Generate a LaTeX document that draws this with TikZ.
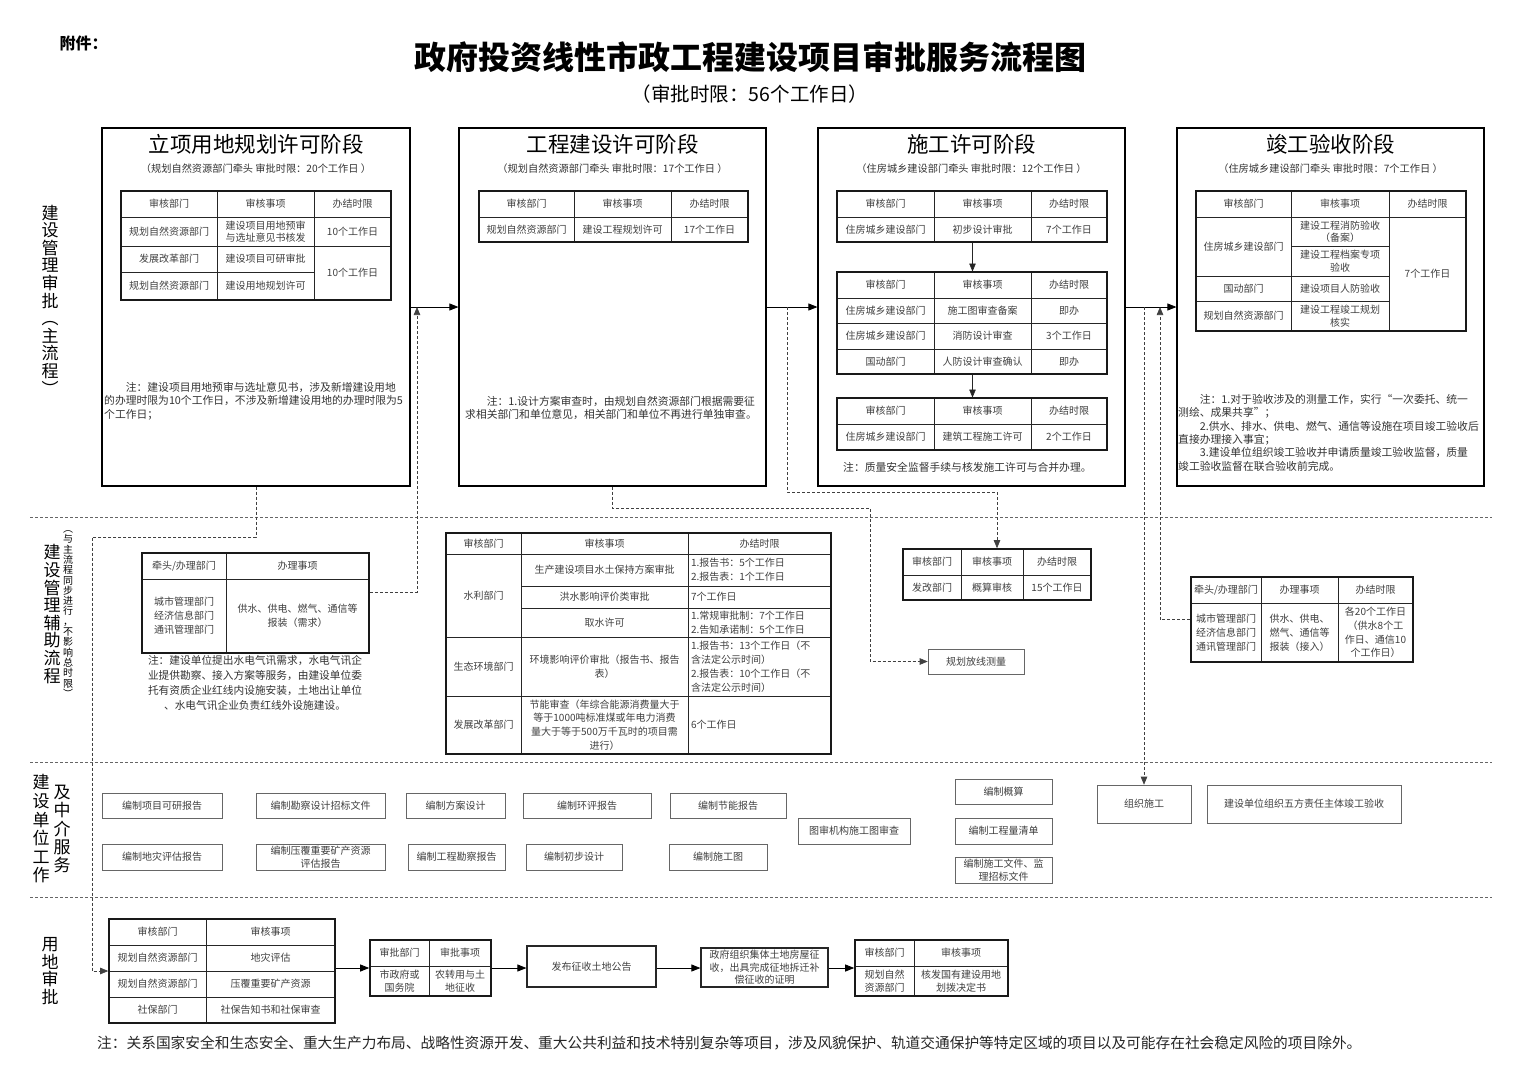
\documentclass[tikz,border=0pt]{standalone}
\usepackage{fontspec}
\setmainfont{Noto Sans CJK SC}
\usetikzlibrary{arrows.meta}

\newcommand{\tabfont}{\fontsize{10}{12.5}\selectfont}
\newcommand{\notefont}{\fontsize{10.8}{13.4}\selectfont}
\newcommand{\tcell}[7][cell]{%
  \node (#2) [#1, minimum width={(#5-#3)*1pt}, minimum height={(#6-#4)*1pt}]
    at ({(#3+#5)/2},{(#4+#6)/2}) {#7};}

\begin{document}
\begin{tikzpicture}[
    x=1pt, y=-1pt,
    stage/.style={draw=black, line width=1.2pt, inner sep=0pt},
    stitle/.style={font=\fontsize{21.5}{24}\selectfont, inner sep=0pt},
    ssub/.style={font=\fontsize{10.2}{12}\selectfont, text=black!80, inner sep=0pt},
    cell/.style={draw=black!85, line width=1pt, inner sep=0.5pt, align=center, font=\tabfont, text=black!75},
    lcell/.style={cell, align=left, text width=137pt},
    mcell/.style={cell, font=\fontsize{10}{13.8}\selectfont},
    mlcell/.style={mcell, align=left, text width=137pt},
    tframe/.style={draw=black!90, line width=1.6pt, inner sep=0pt},
    svc/.style={draw=black!60, line width=0.6pt, inner sep=1pt, align=center, font=\tabfont, text=black!75},
    lbox/.style={svc, draw=black!85, line width=1.2pt},
    note/.style={align=left, font=\notefont, text=black!80, inner sep=0pt},
    vlabel/.style={align=center, font=\fontsize{17}{17.6}\selectfont, inner sep=0pt},
    vsmall/.style={align=center, font=\fontsize{10}{10.3}\selectfont, inner sep=0pt},
    sepline/.style={dash pattern=on 3pt off 2pt, line width=0.5pt, black!60},
    flow/.style={-{Triangle[length=9pt,width=7pt]}, line width=0.8pt, black},
    flowsm/.style={-{Triangle[length=8pt,width=6.5pt]}, line width=0.6pt, black!85},
    dflow/.style={-{Triangle[length=8pt,width=6.5pt]}, dash pattern=on 3pt off 2pt, line width=0.6pt, black!75},
]
\path[use as bounding box, fill=white] (0,0) rectangle (1520,1074);

\node (fujian) [anchor=west, font=\fontsize{16}{18}\selectfont\bfseries] at (56,43) {附件：};
\node (title) [font=\fontsize{32}{36}\selectfont\bfseries] at (750,57) {政府投资线性市政工程建设项目审批服务流程图};
\node (limit) [font=\fontsize{19.5}{22}\selectfont] at (750,94) {（审批时限：56个工作日）};

\draw [sepline] (30,517) -- (1492,517);
\draw [sepline] (30,762) -- (1492,762);
\draw [sepline] (30,897) -- (1492,897);

\node (lab1) [vlabel] at (50,300) {建\\设\\管\\理\\审\\批\\︵\\主\\流\\程\\︶};
\node (lab2) [vlabel] at (52,614) {建\\设\\管\\理\\辅\\助\\流\\程};
\node (lab2s) [vsmall] at (68,614) {︵\\与\\主\\流\\程\\同\\步\\进\\行\\，\\不\\影\\响\\总\\时\\限\\︶};
\node (lab3) [vlabel, font=\fontsize{17}{18.6}\selectfont] at (41,829) {建\\设\\单\\位\\工\\作};
\node (lab3s) [vlabel, font=\fontsize{17}{18.4}\selectfont] at (62,829) {及\\中\\介\\服\\务};
\node (lab4) [vlabel] at (50,971) {用\\地\\审\\批};

\tcell[stage]{b1}{102}{128}{410}{486}{}
\tcell[stage]{b2}{459}{128}{766}{486}{}
\tcell[stage]{b3}{818}{128}{1125}{486}{}
\tcell[stage]{b4}{1177}{128}{1484}{486}{}

\node (b1t) [stitle] at (256,144) {立项用地规划许可阶段};
\node (b1s) [ssub] at (256,169) {（规划自然资源部门牵头 审批时限：20个工作日 ）};
\node (b2t) [stitle] at (612.5,144) {工程建设许可阶段};
\node (b2s) [ssub] at (612.5,169) {（规划自然资源部门牵头 审批时限：17个工作日 ）};
\node (b3t) [stitle] at (971.5,144) {施工许可阶段};
\node (b3s) [ssub] at (971.5,169) {（住房城乡建设部门牵头 审批时限：12个工作日 ）};
\node (b4t) [stitle] at (1330.5,144) {竣工验收阶段};
\node (b4s) [ssub] at (1330.5,169) {（住房城乡建设部门牵头 审批时限：7个工作日 ）};

\tcell{s1h1}{121}{191}{217}{217}{审核部门}
\tcell{s1h2}{217}{191}{314}{217}{审核事项}
\tcell{s1h3}{314}{191}{391}{217}{办结时限}
\tcell{s1a1}{121}{217}{217}{246}{规划自然资源部门}
\tcell{s1a2}{217}{217}{314}{246}{建设项目用地预审\\与选址意见书核发}
\tcell{s1a3}{314}{217}{391}{246}{10个工作日}
\tcell{s1b1}{121}{246}{217}{272}{发展改革部门}
\tcell{s1b2}{217}{246}{314}{272}{建设项目可研审批}
\tcell{s1b3}{314}{246}{391}{300}{10个工作日}
\tcell{s1c1}{121}{272}{217}{300}{规划自然资源部门}
\tcell{s1c2}{217}{272}{314}{300}{建设用地规划许可}
\tcell[tframe]{s1tab}{121}{191}{391}{300}{}

\node (b1n) [note, anchor=north west] at (104,382) {\hspace*{2em}注：建设项目用地预审与选址意见书，涉及新增建设用地\\的办理时限为10个工作日，不涉及新增建设用地的办理时限为5\\个工作日；};

\tcell{s2h1}{479}{191}{574}{217}{审核部门}
\tcell{s2h2}{574}{191}{671}{217}{审核事项}
\tcell{s2h3}{671}{191}{748}{217}{办结时限}
\tcell{s2a1}{479}{217}{574}{242}{规划自然资源部门}
\tcell{s2a2}{574}{217}{671}{242}{建设工程规划许可}
\tcell{s2a3}{671}{217}{748}{242}{17个工作日}
\tcell[tframe]{s2tab}{479}{191}{748}{242}{}

\node (b2n) [note, anchor=north west] at (465,396) {\hspace*{2em}注：1.设计方案审查时，由规划自然资源部门根据需要征\\求相关部门和单位意见，相关部门和单位不再进行单独审查。};

\tcell{s3h1}{837}{191}{934}{217}{审核部门}
\tcell{s3h2}{934}{191}{1031}{217}{审核事项}
\tcell{s3h3}{1031}{191}{1107}{217}{办结时限}
\tcell{s3a1}{837}{217}{934}{242}{住房城乡建设部门}
\tcell{s3a2}{934}{217}{1031}{242}{初步设计审批}
\tcell{s3a3}{1031}{217}{1107}{242}{7个工作日}
\tcell[tframe]{s3taba}{837}{191}{1107}{242}{}

\tcell{s3i1}{837}{272}{934}{298}{审核部门}
\tcell{s3i2}{934}{272}{1031}{298}{审核事项}
\tcell{s3i3}{1031}{272}{1107}{298}{办结时限}
\tcell{s3b1}{837}{298}{934}{323}{住房城乡建设部门}
\tcell{s3b2}{934}{298}{1031}{323}{施工图审查备案}
\tcell{s3b3}{1031}{298}{1107}{323}{即办}
\tcell{s3c1}{837}{323}{934}{349}{住房城乡建设部门}
\tcell{s3c2}{934}{323}{1031}{349}{消防设计审查}
\tcell{s3c3}{1031}{323}{1107}{349}{3个工作日}
\tcell{s3d1}{837}{349}{934}{374}{国动部门}
\tcell{s3d2}{934}{349}{1031}{374}{人防设计审查确认}
\tcell{s3d3}{1031}{349}{1107}{374}{即办}
\tcell[tframe]{s3tabb}{837}{272}{1107}{374}{}

\tcell{s3j1}{837}{398}{934}{424}{审核部门}
\tcell{s3j2}{934}{398}{1031}{424}{审核事项}
\tcell{s3j3}{1031}{398}{1107}{424}{办结时限}
\tcell{s3e1}{837}{424}{934}{450}{住房城乡建设部门}
\tcell{s3e2}{934}{424}{1031}{450}{建筑工程施工许可}
\tcell{s3e3}{1031}{424}{1107}{450}{2个工作日}
\tcell[tframe]{s3tabc}{837}{398}{1107}{450}{}

\draw [flowsm] ([xshift=-10pt]s3a2.south) -- ([xshift=-10pt]s3i2.north);
\draw [flowsm] ([xshift=-10pt]s3d2.south) -- ([xshift=-10pt]s3j2.north);

\node (b3n) [note, anchor=west] at (843,467) {注：质量安全监督手续与核发施工许可与合并办理。};

\tcell{s4h1}{1196}{191}{1291}{217}{审核部门}
\tcell{s4h2}{1291}{191}{1389}{217}{审核事项}
\tcell{s4h3}{1389}{191}{1466}{217}{办结时限}
\tcell{s4a1}{1196}{217}{1291}{276}{住房城乡建设部门}
\tcell{s4a2}{1291}{217}{1389}{246}{建设工程消防验收\\（备案）}
\tcell{s4b2}{1291}{246}{1389}{276}{建设工程档案专项\\验收}
\tcell{s4c1}{1196}{276}{1291}{301}{国动部门}
\tcell{s4c2}{1291}{276}{1389}{301}{建设项目人防验收}
\tcell{s4d1}{1196}{301}{1291}{331}{规划自然资源部门}
\tcell{s4d2}{1291}{301}{1389}{331}{建设工程竣工规划\\核实}
\tcell{s4a3}{1389}{217}{1466}{331}{7个工作日}
\tcell[tframe]{s4tab}{1196}{191}{1466}{331}{}

\node (b4n) [note, anchor=north west] at (1178,394) {\hspace*{2em}注：1.对于验收涉及的测量工作，实行“一次委托、统一\\测绘、成果共享”；\\\hspace*{2em}2.供水、排水、供电、燃气、通信等设施在项目竣工验收后\\直接办理接入事宜；\\\hspace*{2em}3.建设单位组织竣工验收并申请质量竣工验收监督，质量\\竣工验收监督在联合验收前完成。};

\coordinate (j12) at (417,307);
\coordinate (j23) at (787,307);
\coordinate (j34a) at (1144,307);
\coordinate (j34b) at (1160,307);

\draw [flow] (b1.east) -- (b2.west);
\draw [flow] (b2.east) -- (b3.west);
\draw [flow] (b3.east) -- (b4.west);

\tcell{auh1}{142}{553}{226}{579}{牵头/办理部门}
\tcell{auh2}{226}{553}{369}{579}{办理事项}
\tcell[mcell]{aua1}{142}{579}{226}{653}{城市管理部门\\经济信息部门\\通讯管理部门}
\tcell[mcell]{aua2}{226}{579}{369}{653}{供水、供电、燃气、通信等\\报装（需求）}
\tcell[tframe]{auxL}{142}{553}{369}{653}{}

\node (auxLn) [note, align=center, font=\fontsize{10.7}{15}\selectfont] at (255,683) {注：建设单位提出水电气讯需求，水电气讯企\\业提供勘察、接入方案等服务，由建设单位委\\托有资质企业红线内设施安装，土地出让单位\\、水电气讯企业负责红线外设施建设。};

\tcell[mcell]{wmh1}{446}{533}{521}{554}{审核部门}
\tcell[mcell]{wmh2}{521}{533}{688}{554}{审核事项}
\tcell[mcell]{wmh3}{688}{533}{831}{554}{办结时限}
\tcell[mcell]{wma1}{446}{554}{521}{637}{水利部门}
\tcell[mcell]{wma2}{521}{554}{688}{586}{生产建设项目水土保持方案审批}
\tcell[mlcell]{wma3}{688}{554}{831}{586}{1.报告书：5个工作日\\2.报告表：1个工作日}
\tcell[mcell]{wmb2}{521}{586}{688}{608}{洪水影响评价类审批}
\tcell[mlcell]{wmb3}{688}{586}{831}{608}{7个工作日}
\tcell[mcell]{wmc2}{521}{608}{688}{637}{取水许可}
\tcell[mlcell]{wmc3}{688}{608}{831}{637}{1.常规审批制：7个工作日\\2.告知承诺制：5个工作日}
\tcell[mcell]{wmd1}{446}{637}{521}{696}{生态环境部门}
\tcell[mcell]{wmd2}{521}{637}{688}{696}{环境影响评价审批（报告书、报告\\表）}
\tcell[mlcell]{wmd3}{688}{637}{831}{696}{1.报告书：13个工作日（不\\含法定公示时间）\\2.报告表：10个工作日（不\\含法定公示时间）}
\tcell[mcell]{wme1}{446}{696}{521}{754}{发展改革部门}
\tcell[mcell]{wme2}{521}{696}{688}{754}{节能审查（年综合能源消费量大于\\等于1000吨标准煤或年电力消费\\量大于等于500万千瓦时的项目需\\进行）}
\tcell[mlcell]{wme3}{688}{696}{831}{754}{6个工作日}
\tcell[tframe]{auxM}{446}{533}{831}{754}{}

\tcell{fgh1}{903}{549}{961}{575}{审核部门}
\tcell{fgh2}{961}{549}{1023}{575}{审核事项}
\tcell{fgh3}{1023}{549}{1091}{575}{办结时限}
\tcell{fga1}{903}{575}{961}{600}{发改部门}
\tcell{fga2}{961}{575}{1023}{600}{概算审核}
\tcell{fga3}{1023}{575}{1091}{600}{15个工作日}
\tcell[tframe]{fgtab}{903}{549}{1091}{600}{}

\tcell[svc]{fangxian}{928}{649}{1024}{674}{规划放线测量}

\tcell[mcell]{arh1}{1191}{577}{1261}{603}{牵头/办理部门}
\tcell[mcell]{arh2}{1261}{577}{1338}{603}{办理事项}
\tcell[mcell]{arh3}{1338}{577}{1413}{603}{办结时限}
\tcell[mcell]{ara1}{1191}{603}{1261}{662}{城市管理部门\\经济信息部门\\通讯管理部门}
\tcell[mcell]{ara2}{1261}{603}{1338}{662}{供水、供电、\\燃气、通信等\\报装（接入）}
\tcell[mcell]{ara3}{1338}{603}{1413}{662}{各20个工作日\\（供水8个工\\作日、通信10\\个工作日）}
\tcell[tframe]{auxR}{1191}{577}{1413}{662}{}

\tcell[svc]{sv1}{102}{793}{222}{818}{编制项目可研报告}
\tcell[svc]{sv2}{256}{793}{385}{818}{编制勘察设计招标文件}
\tcell[svc]{sv3}{406}{793}{505}{818}{编制方案设计}
\tcell[svc]{sv4}{523}{793}{651}{818}{编制环评报告}
\tcell[svc]{sv5}{670}{793}{786}{818}{编制节能报告}
\tcell[svc]{sv6}{102}{844}{222}{870}{编制地灾评估报告}
\tcell[svc]{sv7}{256}{844}{385}{870}{编制压覆重要矿产资源\\评估报告}
\tcell[svc]{sv8}{408}{844}{505}{870}{编制工程勘察报告}
\tcell[svc]{sv9}{526}{844}{622}{870}{编制初步设计}
\tcell[svc]{sv10}{669}{844}{767}{870}{编制施工图}
\tcell[svc]{sv11}{798}{818}{910}{844}{图审机构施工图审查}
\tcell[svc]{sv12}{955}{779}{1052}{804}{编制概算}
\tcell[svc]{sv13}{955}{818}{1052}{844}{编制工程量清单}
\tcell[svc]{sv14}{955}{857}{1052}{883}{编制施工文件、监\\理招标文件}
\tcell[svc]{zuzhi}{1097}{785}{1191}{823}{组织施工}
\tcell[svc]{yanshou}{1207}{785}{1401}{823}{建设单位组织五方责任主体竣工验收}

\tcell{ldh1}{109}{919}{206}{945}{审核部门}
\tcell{ldh2}{206}{919}{335}{945}{审核事项}
\tcell{lda1}{109}{945}{206}{971}{规划自然资源部门}
\tcell{lda2}{206}{945}{335}{971}{地灾评估}
\tcell{ldb1}{109}{971}{206}{997}{规划自然资源部门}
\tcell{ldb2}{206}{971}{335}{997}{压覆重要矿产资源}
\tcell{ldc1}{109}{997}{206}{1023}{社保部门}
\tcell{ldc2}{206}{997}{335}{1023}{社保告知书和社保审查}
\tcell[tframe]{landA}{109}{919}{335}{1023}{}

\tcell{lmh1}{370}{940}{429}{966}{审批部门}
\tcell{lmh2}{429}{940}{491}{966}{审批事项}
\tcell{lma1}{370}{966}{429}{996}{市政府或\\国务院}
\tcell{lma2}{429}{966}{491}{996}{农转用与土\\地征收}
\tcell[tframe]{landB}{370}{940}{491}{996}{}

\tcell[lbox]{gonggao}{527}{946}{656}{987}{发布征收土地公告}
\tcell[lbox]{zhengshou}{701}{948}{828}{987}{政府组织集体土地房屋征\\收，出具完成征地拆迁补\\偿征收的证明}

\tcell{lnh1}{855}{940}{914}{966}{审核部门}
\tcell{lnh2}{914}{940}{1008}{966}{审核事项}
\tcell{lna1}{855}{966}{914}{996}{规划自然\\资源部门}
\tcell{lna2}{914}{966}{1008}{996}{核发国有建设用地\\划拨决定书}
\tcell[tframe]{landC}{855}{940}{1008}{996}{}

\draw [flow] (landA.east |- landB.west) -- (landB.west);
\draw [flow] (landB.east) -- (landB.east -| gonggao.west);
\draw [flow] (gonggao.east |- landB.east) -- (landB.east -| zhengshou.west);
\draw [flow] (zhengshou.east |- landB.east) -- (landB.east -| landC.west);

\draw [dflow] (b1.south) |- (92,537) |- (landA.west);
\draw [dflow] ([yshift=11pt]auxL.east) -| (j12);
\draw [dflow] (j23) -- (787,492) -| (fgtab.north);
\draw [dflow] (b2.south) |- (870,508) |- (fangxian.west);
\draw [dflow] (j34a) -- (zuzhi.north);
\draw [dflow] (auxR.west) -| (j34b);

\node (foot) [anchor=west, font=\fontsize{14.7}{17}\selectfont, text=black!85, inner sep=0pt] at (97,1043) {注：关系国家安全和生态安全、重大生产力布局、战略性资源开发、重大公共利益和技术特别复杂等项目，涉及风貌保护、轨道交通保护等特定区域的项目以及可能存在社会稳定风险的项目除外。};

\end{tikzpicture}
\end{document}
